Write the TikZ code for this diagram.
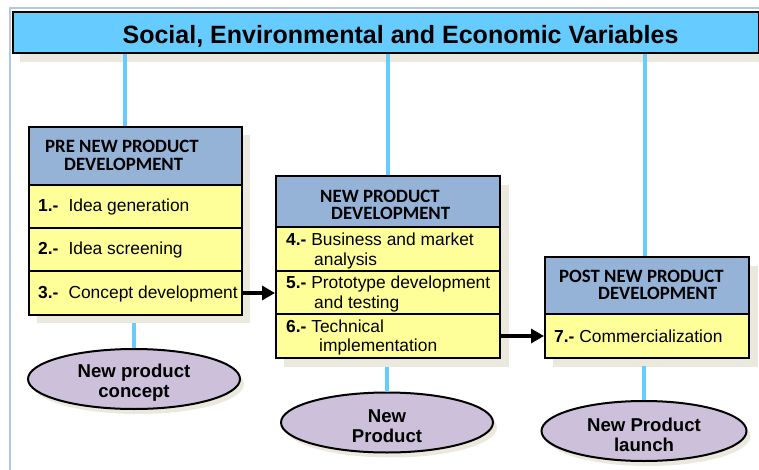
\documentclass[tikz,border=0pt]{standalone}
\usepackage{fontspec}
\setmainfont{Liberation Sans}
\newfontfamily\hdrfont{Carlito}
\usetikzlibrary{shapes.geometric,arrows.meta}
\definecolor{titlec}{HTML}{66CCFF}
\definecolor{hdrc}{HTML}{95B3D7}
\definecolor{rowc}{HTML}{FFFF99}
\definecolor{ellc}{HTML}{CCC0DA}
\definecolor{shadc}{HTML}{EBE8DE}
\definecolor{framec}{HTML}{B0C8E8}
\definecolor{linkc}{HTML}{66CCFF}
\begin{document}
\begin{tikzpicture}[x=1pt,y=-1pt,
 box/.style={draw=black,line width=2pt,rectangle,inner sep=0pt,anchor=north west},
 hdr/.style={box,fill=hdrc},
 rowbox/.style={box,fill=rowc},
 shad/.style={fill=shadc,draw=none},
 hdrtext/.style={font=\hdrfont\bfseries\fontsize{18.8}{17.5}\selectfont,align=left,inner sep=0pt,anchor=west},
 rowtext/.style={font=\fontsize{17.4}{19.5}\selectfont,align=left,inner sep=0pt,anchor=base west},
 ell/.style={ellipse,draw=black,line width=2pt,fill=ellc,inner sep=0pt},
 elltext/.style={font=\bfseries\fontsize{18.6}{20}\selectfont,align=center,inner sep=0pt},
 ellshad/.style={ellipse,fill=shadc,draw=none,inner sep=0pt},
 link/.style={draw=linkc,line width=3.5pt},
 flow/.style={draw=black,line width=4pt,-{Triangle[length=13pt,width=14pt]}}]
\useasboundingbox (0,0) rectangle (759,470);
% frame
\draw[framec,line width=1.5pt] (10,470) -- (10,8) -- (759,8);
% title
\fill[shadc] (20,52) rectangle (759,62);
\node[box,fill=titlec,minimum width=746,minimum height=41] (title) at (12,11) {};
\node[font=\bfseries\fontsize{25}{27}\selectfont,anchor=base,inner sep=0pt] (titletext) at (400.5,44) {Social, Environmental and Economic Variables};
% link columns
\coordinate (c1) at (125,100);
\coordinate (c2) at (388,100);
\coordinate (c3) at (645,100);
% shadows of boxes
\fill[shadc] (37,135) rectangle (250,323);
\fill[shadc] (284,185) rectangle (509,367);
\fill[shadc] (553,266) rectangle (758,367);
% boxes
\node[hdr,minimum width=213,minimum height=58] (h1) at (28,126) {};
\node[rowbox,minimum width=213,minimum height=43] (r1) at (28,184) {};
\node[rowbox,minimum width=213,minimum height=43] (r2) at (28,227) {};
\node[rowbox,minimum width=213,minimum height=44] (r3) at (28,270) {};
\node[hdr,minimum width=224,minimum height=51] (h2) at (275,175) {};
\node[rowbox,minimum width=224,minimum height=44] (r4) at (275,226) {};
\node[rowbox,minimum width=224,minimum height=43] (r5) at (275,270) {};
\node[rowbox,minimum width=224,minimum height=44] (r6) at (275,313) {};
\node[hdr,minimum width=204,minimum height=57] (h3) at (544,256) {};
\node[rowbox,minimum width=204,minimum height=44] (r7) at (544,313) {};
\draw[link] (c1 |- title.south) -- (c1 |- h1.north);
\draw[link] (c2 |- title.south) -- (c2 |- h2.north);
\draw[link] (c3 |- title.south) -- (c3 |- h3.north);
% header texts
\node[hdrtext] (h1t) at (45,155.5) {PRE NEW PRODUCT\\\hspace*{19pt}DEVELOPMENT};
\node[hdrtext] (h2t) at (320,205) {NEW PRODUCT\\\hspace*{11pt}DEVELOPMENT};
\node[hdrtext] (h3t) at (559,285) {POST NEW PRODUCT\\\hspace*{39pt}DEVELOPMENT};
% row texts
\node[rowtext] (t1) at (38,211.5) {\textbf{1.-}\hspace{10pt}Idea generation};
\node[rowtext] (t2) at (38,254.5) {\textbf{2.-}\hspace{10pt}Idea screening};
\node[rowtext] (t3) at (38,298) {\textbf{3.-}\hspace{10pt}Concept development};
\node[rowtext] (t4) at (286,265) {\textbf{4.-} Business and market\\\hspace*{28pt}analysis};
\node[rowtext] (t5) at (286,308) {\textbf{5.-} Prototype development\\\hspace*{28pt}and testing};
\node[rowtext] (t6) at (286,351.5) {\textbf{6.-} Technical\\\hspace*{33pt}implementation};
\node[rowtext] (t7) at (554,342) {\textbf{7.-} Commercialization};
% ellipses
\node[ellshad,minimum width=212,minimum height=60] (e1s) at (138,384) {};
\node[ellshad,minimum width=212,minimum height=60] (e2s) at (391,427.5) {};
\node[ellshad,minimum width=205,minimum height=60] (e3s) at (648,436) {};
\node[ell,minimum width=212,minimum height=60] (e1) at (134,379) {};
\node[ell,minimum width=212,minimum height=60] (e2) at (387,422.5) {};
\node[ell,minimum width=205,minimum height=60] (e3) at (644,431) {};
\node[elltext] (e1t) at ([yshift=-3.5]e1.center) {New product\\concept};
\node[elltext] (e2t) at ([yshift=-3.5]e2.center) {New\\Product};
\node[elltext] (e3t) at ([yshift=-3.5]e3.center) {New Product\\launch};
\draw[link] (e1.north) -- ++(0,-25);
\draw[link] (e2.north) -- ++(0,-25);
\draw[link] (e3.north) -- ++(0,-34);
% flow arrows
\draw[flow] (r3.east) -- (r3.east -| r5.west);
\draw[flow] (r6.east) -- (r6.east -| r7.west);
\end{tikzpicture}
\end{document}
